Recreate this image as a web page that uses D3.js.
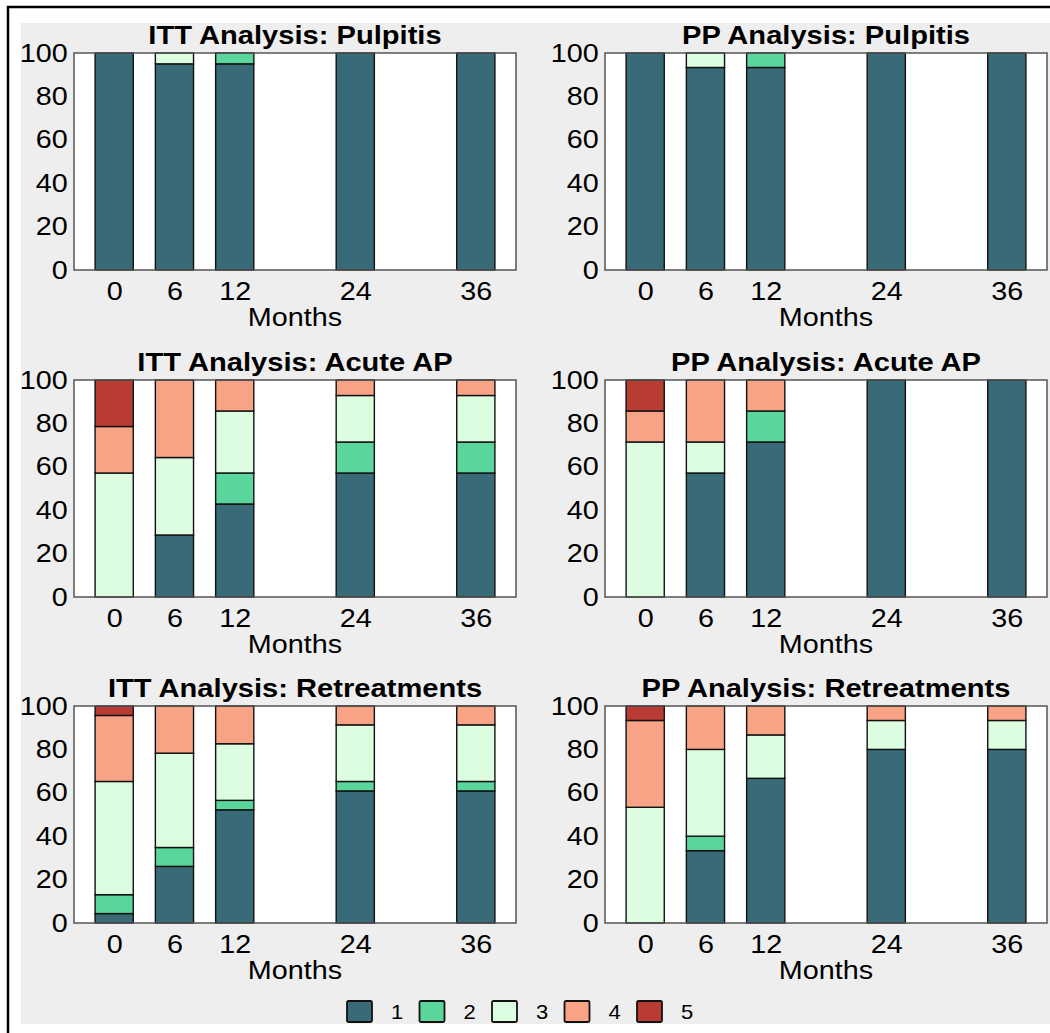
<!DOCTYPE html>
<html>
<head>
<meta charset="utf-8">
<script src="https://cdn.jsdelivr.net/npm/d3@7"></script>
<style>
  body { margin: 0; background: #fff; }
  svg { display: block; font-family: "Liberation Sans", Arial, sans-serif; }
</style>
</head>
<body>
<script>
// x categories (months) and response levels
var months = [0, 6, 12, 24, 36];
var levels = ["1", "2", "3", "4", "5"];
var levelColors = ["#386b77", "#5ad59b", "#dcfde0", "#f9a386", "#b83c33"];
var yTicks = [0, 20, 40, 60, 80, 100];

// percentages per month, columns = levels 1..5
var ittPulpitis = [[100, 0, 0, 0, 0], [95, 0, 5, 0, 0], [95, 5, 0, 0, 0], [100, 0, 0, 0, 0], [100, 0, 0, 0, 0]];
var ppPulpitis = [[100, 0, 0, 0, 0], [93.33, 0, 6.67, 0, 0], [93.33, 6.67, 0, 0, 0], [100, 0, 0, 0, 0], [100, 0, 0, 0, 0]];
var ittAcute = [[0, 0, 57.14, 21.43, 21.43], [28.57, 0, 35.71, 35.71, 0], [42.86, 14.29, 28.57, 14.29, 0], [57.14, 14.29, 21.43, 7.14, 0], [57.14, 14.29, 21.43, 7.14, 0]];
var ppAcute = [[0, 0, 71.43, 14.29, 14.29], [57.14, 0, 14.29, 28.57, 0], [71.43, 14.29, 0, 14.29, 0], [100, 0, 0, 0, 0], [100, 0, 0, 0, 0]];
var ittRetreat = [[4.35, 8.70, 52.17, 30.43, 4.35], [26.09, 8.70, 43.48, 21.74, 0], [52.17, 4.35, 26.09, 17.39, 0], [60.87, 4.35, 26.09, 8.70, 0], [60.87, 4.35, 26.09, 8.70, 0]];
var ppRetreat = [[0, 0, 53.33, 40, 6.67], [33.33, 6.67, 40, 20, 0], [66.67, 0, 20, 13.33, 0], [80, 0, 13.33, 6.67, 0], [80, 0, 13.33, 6.67, 0]];

var titles = ["ITT Analysis: Pulpitis", "PP Analysis: Pulpitis",
              "ITT Analysis: Acute AP", "PP Analysis: Acute AP",
              "ITT Analysis: Retreatments", "PP Analysis: Retreatments"];
var panelData = [ittPulpitis, ppPulpitis, ittAcute, ppAcute, ittRetreat, ppRetreat];

var W = 1050, H = 1033;
var colLeft = [74, 605], rowTop = [53, 380, 706];
var pw = 442, ph = 217;
var stretch = "scale(1.15,1)";

var svg = d3.select("body").append("svg")
    .attr("width", W).attr("height", H);

// outer frame + grey figure background
svg.append("rect").attr("x", 21).attr("y", 23).attr("width", W - 21).attr("height", 1001).attr("fill", "#eeeeee");
svg.append("path").attr("d", "M8,1033V7H1050").attr("fill", "none").attr("stroke", "#000").attr("stroke-width", 2.5);

var color = d3.scaleOrdinal().domain(levels).range(levelColors);
var stack = d3.stack().keys(levels);

panelData.forEach(function(rows, i) {
  var ox = colLeft[i % 2], oy = rowTop[Math.floor(i / 2)];
  var g = svg.append("g").attr("transform", "translate(" + ox + "," + oy + ")");

  var x = d3.scaleLinear().domain([-4, 40]).range([0, pw]);
  var y = d3.scaleLinear().domain([0, 100]).range([ph, 0]);

  var table = rows.map(function(r, j) {
    var o = {month: months[j]};
    levels.forEach(function(k, m) { o[k] = r[m]; });
    return o;
  });

  g.append("rect").attr("width", pw).attr("height", ph).attr("fill", "#fff");

  var series = g.selectAll(".series")
      .data(stack(table))
      .enter().append("g")
        .attr("class", "series")
        .attr("fill", function(d) { return color(d.key); });

  series.selectAll("rect")
      .data(function(d) { return d.filter(function(s) { return s[1] - s[0] > 0; }); })
      .enter().append("rect")
        .attr("x", function(d) { return x(d.data.month - 1.9); })
        .attr("width", x(1.9) - x(-1.9))
        .attr("y", function(d) { return y(d[1]); })
        .attr("height", function(d) { return y(d[0]) - y(d[1]); })
        .attr("stroke", "#111")
        .attr("stroke-width", 1.4);

  g.append("rect").attr("width", pw).attr("height", ph)
      .attr("fill", "none").attr("stroke", "#555").attr("stroke-width", 1.5);

  var yAxis = g.append("g")
      .call(d3.axisLeft(y).tickValues(yTicks).tickSize(0).tickPadding(5.5));
  var xAxis = g.append("g")
      .attr("transform", "translate(0," + ph + ")")
      .call(d3.axisBottom(x).tickValues(months).tickSize(0).tickPadding(12));

  [yAxis, xAxis].forEach(function(a) {
    a.select(".domain").remove();
    a.selectAll("text")
        .attr("font-size", 25)
        .attr("font-family", "Liberation Sans, Arial, sans-serif")
        .attr("fill", "#000")
        .attr("transform", stretch);
  });

  g.append("text")
      .attr("transform", "translate(" + pw / 2 + "," + (ph + 56) + ") " + stretch)
      .attr("text-anchor", "middle")
      .attr("font-size", 25)
      .text("Months");

  g.append("text")
      .attr("transform", "translate(" + pw / 2 + ",-9) scale(1.12,1)")
      .attr("text-anchor", "middle")
      .attr("font-size", 26)
      .attr("font-weight", "bold")
      .text(titles[i]);
});

// legend
var legend = svg.selectAll(".legend")
    .data(levels)
    .enter().append("g")
      .attr("class", "legend")
      .attr("transform", function(d, i) { return "translate(" + (347 + i * 72.5) + ",1001)"; });

legend.append("rect")
    .attr("width", 25).attr("height", 21).attr("rx", 1.5)
    .attr("fill", color)
    .attr("stroke", "#111").attr("stroke-width", 1.8);

legend.append("text")
    .attr("transform", "translate(50,18) scale(1.1,1)")
    .attr("text-anchor", "middle")
    .attr("font-size", 20)
    .text(function(d) { return d; });
</script>
</body>
</html>
